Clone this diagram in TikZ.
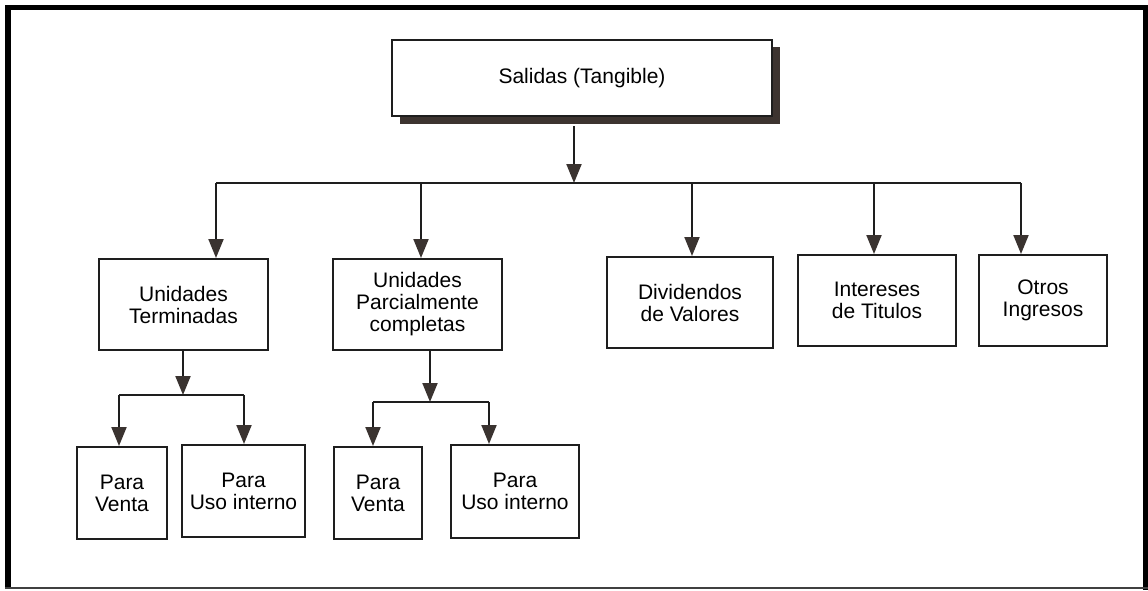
\documentclass[tikz,border=0pt]{standalone}
\usepackage{fontspec}
\setmainfont{Liberation Sans}
\usetikzlibrary{arrows.meta}
\definecolor{ink}{HTML}{1E1E1E}
\definecolor{tipc}{HTML}{3A3330}
\definecolor{shadowc}{HTML}{3D3430}
\begin{document}
\begin{tikzpicture}[x=1pt,y=-1pt,
  box/.style={draw=ink,line width=2pt,fill=white,inner sep=0pt,align=center,
    font=\fontsize{21}{22}\selectfont,text=black},
  link/.style={draw=ink,line width=2pt},
  arr/.style={link,-{Triangle[length=19pt,width=15pt,color=tipc,fill=tipc]}}]
\useasboundingbox (0,0) rectangle (1148,590);
\fill[white] (0,0) rectangle (1148,590);
% outer frame
\fill[black] (5,5) rectangle (11,589);
\fill[black] (5,5) rectangle (1148,9.5);
\fill[black] (1143,5) rectangle (1148,590);
\fill[black!75] (5,587) rectangle (1148,589);

% top box with its drop shadow
\fill[shadowc] (400,47) rectangle (780,124);
\node[box,minimum width=380pt,minimum height=76pt] (top) at (582,78) {Salidas (Tangible)};

% second level
\node[box,minimum width=169pt,minimum height=91pt] (ut) at (183.5,304.5) {Unidades\\Terminadas};
\node[box,minimum width=169pt,minimum height=91pt] (up) at (417.5,304.5) {Unidades\\Parcialmente\\completas};
\node[box,minimum width=166pt,minimum height=91pt] (dv) at (690,302.5) {Dividendos\\de Valores};
\node[box,minimum width=158pt,minimum height=91pt] (it) at (877,300.5) {Intereses\\de Titulos};
\node[box,minimum width=128pt,minimum height=91pt] (oi) at (1043,300.5) {Otros\\Ingresos};

% third level
\node[box,minimum width=90pt,minimum height=92pt] (pv1) at (122,493) {Para\\Venta};
\node[box,minimum width=123pt,minimum height=92pt] (pu1) at (243.5,491) {Para\\Uso interno};
\node[box,minimum width=88pt,minimum height=92pt] (pv2) at (378,493) {Para\\Venta};
\node[box,minimum width=128pt,minimum height=93pt] (pu2) at (515,491.5) {Para\\Uso interno};

% main distribution bar
\coordinate (h0) at (574,183);
\coordinate (b1) at (216,183);
\coordinate (b2) at (421,183);
\coordinate (b3) at (692,183);
\coordinate (b4) at (874,183);
\coordinate (b5) at (1021,183);
\draw[arr] ([yshift=-9pt]top.south -| h0) -- (h0);
\draw[link] (b1) -- (b5);
\draw[arr] (b1) -- (b1 |- ut.north);
\draw[arr] (b2) -- (b2 |- up.north);
\draw[arr] (b3) -- (b3 |- dv.north);
\draw[arr] (b4) -- (b4 |- it.north);
\draw[arr] (b5) -- (b5 |- oi.north);

% branch under "Unidades Terminadas"
\coordinate (h1) at (183,395);
\coordinate (c1) at (119,395);
\coordinate (c2) at (244,395);
\draw[arr] (ut.south -| h1) -- (h1);
\draw[link] (c1) -- (c2);
\draw[arr] (c1) -- (c1 |- pv1.north);
\draw[arr] (c2) -- (c2 |- pu1.north);

% branch under "Unidades Parcialmente completas"
\coordinate (h2) at (430,402);
\coordinate (d1) at (373,402);
\coordinate (d2) at (489,402);
\draw[arr] (up.south -| h2) -- (h2);
\draw[link] (d1) -- (d2);
\draw[arr] (d1) -- (d1 |- pv2.north);
\draw[arr] (d2) -- (d2 |- pu2.north);
\end{tikzpicture}
\end{document}
